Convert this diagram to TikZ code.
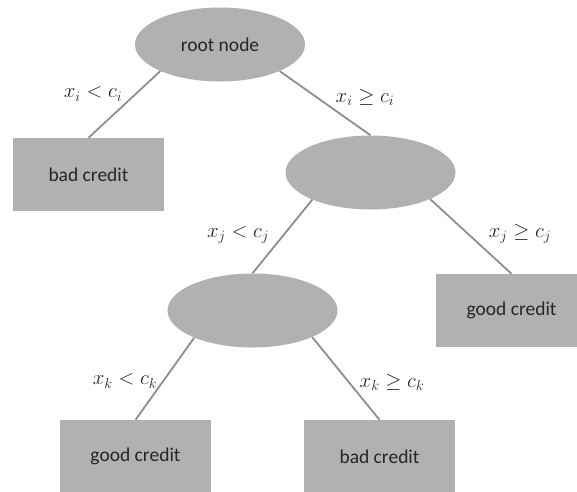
\documentclass[tikz,border=0pt]{standalone}
\usepackage{fontspec}
\setmainfont{Carlito}
\usetikzlibrary{shapes.geometric}
\definecolor{boxgray}{HTML}{B1B1B3}
\definecolor{linegray}{HTML}{8E8E8E}
\definecolor{txt}{HTML}{262626}
\tikzset{
  split/.style={ellipse, fill=boxgray, minimum width=170pt, minimum height=74pt, inner sep=0pt,
    text=txt, font=\fontsize{19.5}{22}\selectfont},
  leaf/.style={rectangle, fill=boxgray, minimum width=151pt, minimum height=73pt, inner sep=0pt,
    text=txt, font=\fontsize{19.5}{22}\selectfont},
  conn/.style={draw=linegray, line width=1.8pt},
  cond/.style={text=txt, inner sep=0pt, font=\fontsize{21}{24}\selectfont}
}
\begin{document}
\begin{tikzpicture}[x=1pt, y=-1pt]
  \useasboundingbox (0,0) rectangle (577,491);
  \clip (0,0) rectangle (577,491);
  % decision nodes
  \node[split] (root) at (220,44.5) {root node};
  \node[split] (mid) at (370.5,172.5) {};
  \node[split] (low) at (252.5,310.5) {};
  % leaves
  \node[leaf] (bad1) at (88.5,174.5) {bad credit};
  \node[leaf] (good1) at (511.5,310.5) {good credit};
  \node[leaf] (good2) at (135.5,456.5) {good credit};
  \node[leaf] (bad2) at (379.5,456.5) {bad credit};
  % branches
  \draw[conn] (root.204) -- (bad1.north);
  \draw[conn] (root.336) -- (mid.north);
  \draw[conn] (mid.205) -- (low.north);
  \draw[conn] (mid.336) -- (good1.north);
  \draw[conn] (low.205) -- (good2.north);
  \draw[conn] (low.336) -- (bad2.north);
  % split conditions
  \node[cond] (ci) at (93,94) {$x_i < c_i$};
  \node[cond] (cii) at (365,97) {$x_i \geq c_i$};
  \node[cond] (cj) at (238,235) {$x_j < c_j$};
  \node[cond] (cjj) at (520,234) {$x_j \geq c_j$};
  \node[cond] (ck) at (125,381) {$x_k < c_k$};
  \node[cond] (ckk) at (392,382) {$x_k \geq c_k$};
\end{tikzpicture}
\end{document}
